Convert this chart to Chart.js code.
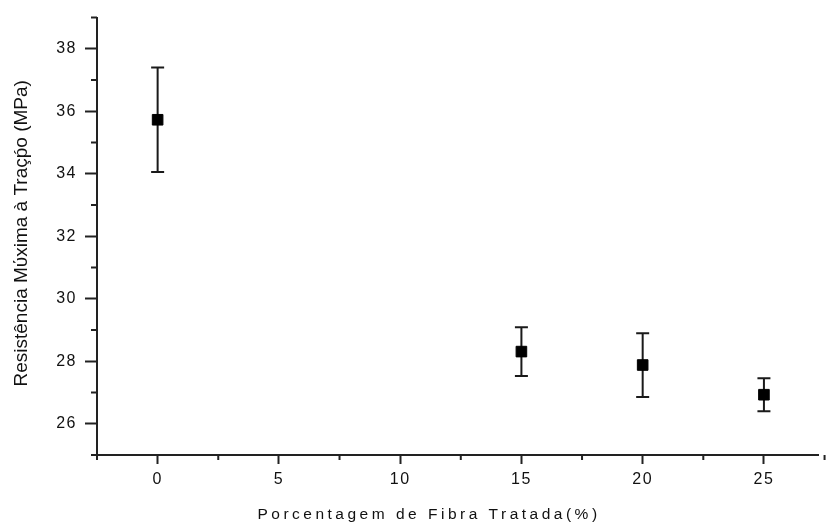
<!DOCTYPE html>
<html>
<head>
<meta charset="utf-8">
<script src="https://cdn.jsdelivr.net/npm/chart.js@4"></script>
<style>
    html, body { margin: 0; padding: 0; background: #fff; }
    #wrap { width: 827px; height: 528px; }
</style>
</head>
<body>
<div id="wrap"><canvas id="fibraChart" width="827" height="528"></canvas></div>
<script>
// Resistencia x porcentagem de fibra
const fibraPct = [0, 15, 20, 25];
const resistencia = [35.73, 28.31, 27.88, 26.93];
const desvio = [1.67, 0.78, 1.02, 0.53];

const xTicks = [0, 5, 10, 15, 20, 25];
const xMinor = [-2.5, 2.5, 7.5, 12.5, 17.5, 22.5, 27.5];
const yTicks = [26, 28, 30, 32, 34, 36, 38];
const yMinor = [25, 27, 29, 31, 33, 35, 37, 39];

const yTitle = 'Resistência M\u03cdxima à Traç\u1e55o (MPa)';
const xTitle = 'Porcentagem de Fibra Tratada(%)';

const axisColor = '#222';

// letter spacing for all text, like the original export
const spacingPlugin = {
    id: 'spacing',
    beforeDraw(chart) {
        chart.ctx.letterSpacing = '1.5px';
    }
};

// error bars drawn behind the markers
const errorBars = {
    id: 'errorBars',
    beforeDatasetsDraw(chart) {
        const ctx = chart.ctx;
        const xs = chart.scales.x, ys = chart.scales.y;
        ctx.save();
        ctx.strokeStyle = '#1a1a1a';
        ctx.lineWidth = 2;
        fibraPct.forEach((v, i) => {
            const px = xs.getPixelForValue(v);
            const top = ys.getPixelForValue(resistencia[i] + desvio[i]);
            const bot = ys.getPixelForValue(resistencia[i] - desvio[i]);
            ctx.beginPath();
            ctx.moveTo(px, top); ctx.lineTo(px, bot);
            ctx.moveTo(px - 6.5, top); ctx.lineTo(px + 6.5, top);
            ctx.moveTo(px - 6.5, bot); ctx.lineTo(px + 6.5, bot);
            ctx.stroke();
        });
        ctx.restore();
    }
};

// minor ticks and axis titles
const extras = {
    id: 'extras',
    afterDraw(chart) {
        const ctx = chart.ctx;
        const xs = chart.scales.x, ys = chart.scales.y;
        const area = chart.chartArea;
        ctx.save();
        ctx.strokeStyle = axisColor;
        ctx.lineWidth = 2;
        ctx.beginPath();
        xMinor.forEach(v => {
            const px = xs.getPixelForValue(v);
            ctx.moveTo(px, area.bottom); ctx.lineTo(px, area.bottom + 5);
        });
        yMinor.forEach(v => {
            const py = ys.getPixelForValue(v);
            ctx.moveTo(area.left, py); ctx.lineTo(area.left - 6, py);
        });
        ctx.stroke();

        ctx.fillStyle = '#111';
        ctx.textBaseline = 'middle';
        ctx.textAlign = 'center';
        ctx.letterSpacing = '3.5px';
        ctx.font = '15.5px "Liberation Sans", Arial, sans-serif';
        ctx.fillText(xTitle, area.left + 332, 515);

        ctx.letterSpacing = '0px';
        ctx.font = '19px "Liberation Sans", Arial, sans-serif';
        ctx.translate(22, (area.top + area.bottom) / 2 - 3);
        ctx.rotate(-Math.PI / 2);
        ctx.fillText(yTitle, 0, 0);
        ctx.restore();
    }
};

document.addEventListener('DOMContentLoaded', function() {
    const ctx = document.getElementById('fibraChart');
    new Chart(ctx, {
        type: 'scatter',
        data: {
            datasets: [{
                data: fibraPct.map((v, i) => ({ x: v, y: resistencia[i] })),
                pointStyle: 'rect',
                pointRadius: 7.5,
                pointHoverRadius: 7.5,
                backgroundColor: '#000',
                borderColor: '#000',
                borderWidth: 1
            }]
        },
        options: {
            responsive: false,
            animation: false,
            events: [],
            layout: { padding: { top: 17, left: 0, right: 0, bottom: 0 } },
            plugins: {
                legend: { display: false },
                tooltip: { enabled: false }
            },
            scales: {
                x: {
                    type: 'linear',
                    min: -2.5,
                    max: 27.25,
                    afterFit: s => { s.height = 73; },
                    afterBuildTicks: s => { s.ticks = xTicks.map(v => ({ value: v })); },
                    grid: {
                        drawOnChartArea: false,
                        drawTicks: true,
                        tickLength: 9,
                        tickWidth: 2,
                        tickColor: axisColor
                    },
                    border: { color: axisColor, width: 2 },
                    ticks: {
                        padding: 6,
                        color: '#111',
                        maxRotation: 0,
                        font: { family: '"Liberation Sans", Arial, sans-serif', size: 16 }
                    }
                },
                y: {
                    type: 'linear',
                    min: 25,
                    max: 39,
                    afterFit: s => { s.width = 97; },
                    afterBuildTicks: s => { s.ticks = yTicks.map(v => ({ value: v })); },
                    grid: {
                        drawOnChartArea: false,
                        drawTicks: true,
                        tickLength: 12,
                        tickWidth: 2,
                        tickColor: axisColor
                    },
                    border: { color: axisColor, width: 2 },
                    ticks: {
                        padding: 8,
                        color: '#111',
                        font: { family: '"Liberation Sans", Arial, sans-serif', size: 16 }
                    }
                }
            }
        },
        plugins: [spacingPlugin, errorBars, extras]
    });
});
</script>
</body>
</html>
